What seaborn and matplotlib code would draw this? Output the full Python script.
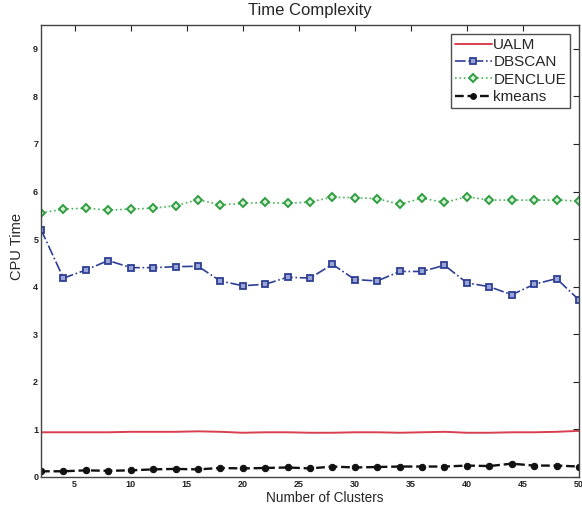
import matplotlib
matplotlib.use("Agg")
import matplotlib.pyplot as plt
import seaborn as sns
import pandas as pd
import numpy as np

clusters = [2, 4, 6, 8, 10, 12, 14, 16, 18, 20, 22, 24, 26, 28, 30, 32, 34, 36, 38, 40, 42, 44, 46, 48, 50]
ualm = [0.94, 0.94, 0.94, 0.94, 0.95, 0.95, 0.95, 0.96, 0.95, 0.93, 0.94, 0.94, 0.93, 0.93, 0.94, 0.94, 0.93, 0.94, 0.95, 0.93, 0.93, 0.94, 0.94, 0.95, 0.97]
dbscan = [5.2, 4.18, 4.35, 4.55, 4.4, 4.4, 4.42, 4.43, 4.12, 4.02, 4.05, 4.2, 4.18, 4.47, 4.15, 4.12, 4.32, 4.32, 4.45, 4.08, 4.0, 3.83, 4.05, 4.17, 3.72]
denclue = [5.55, 5.63, 5.65, 5.61, 5.63, 5.65, 5.7, 5.83, 5.72, 5.75, 5.77, 5.75, 5.78, 5.88, 5.87, 5.85, 5.73, 5.86, 5.77, 5.89, 5.82, 5.82, 5.82, 5.82, 5.8]
kmeans = [0.12, 0.12, 0.14, 0.13, 0.14, 0.16, 0.17, 0.16, 0.19, 0.18, 0.19, 0.2, 0.18, 0.22, 0.2, 0.21, 0.22, 0.22, 0.22, 0.24, 0.23, 0.28, 0.24, 0.24, 0.22]
xticks = [5, 10, 15, 20, 25, 30, 35, 40, 45, 50]
yticks = [0, 1, 2, 3, 4, 5, 6, 7, 8, 9]

sns.set_style("white")
plt.rcParams['font.family'] = ['Liberation Sans', 'DejaVu Sans']

fig = plt.figure(figsize=(5.82, 5.09), dpi=100)
ax = fig.add_axes([41/582, 1-477/509, (579-41)/582, (477-25)/509])

sns.lineplot(x=clusters, y=ualm, ax=ax, color="#d8404f", linewidth=1.4, label="UALM")
sns.lineplot(x=clusters, y=dbscan, ax=ax, color="#2e3f94", linewidth=1.2, linestyle="-.",
             marker="s", markersize=4.2, markerfacecolor="#9aa5d4", markeredgecolor="#2e3f94",
             markeredgewidth=1.3, label="DBSCAN")
sns.lineplot(x=clusters, y=denclue, ax=ax, color="#4cb45a", linewidth=1.2, linestyle=":",
             marker="D", markersize=4.2, markerfacecolor="#d6f0d6", markeredgecolor="#2f9e40",
             markeredgewidth=1.4, label="DENCLUE")
sns.lineplot(x=clusters, y=kmeans, ax=ax, color="#111111", linewidth=1.7, linestyle="--",
             dashes=(3, 3), marker="o", markersize=4.6, markerfacecolor="#111111",
             markeredgecolor="#111111", label="kmeans")

ax.set_xlim(2, 50)
ax.set_ylim(0.05, 9.5)
ax.set_xticks(xticks)
ax.set_yticks(yticks)
ax.tick_params(direction="in", length=4, width=0.8, labelsize=6.5, top=True, right=True,
               colors="#222222", pad=2)
for lab in ax.get_xticklabels() + ax.get_yticklabels():
    lab.set_fontweight("bold")
for s in ax.spines.values():
    s.set_color("#444444")
    s.set_linewidth(1.0)
    s.set_visible(True)

ax.set_title("Time Complexity", fontsize=12, pad=7)
ax.set_xlabel("Number of Clusters", fontsize=9.8)
ax.xaxis.set_label_coords(0.527, -0.032)
ax.set_ylabel("CPU Time", fontsize=10.5)
ax.yaxis.set_label_coords(-0.032, 0.51)

leg = ax.legend(loc="upper right", fontsize=11, frameon=True, fancybox=False,
                edgecolor="#222222", borderpad=0.25, labelspacing=0.22, handlelength=2.4,
                handletextpad=0.1, borderaxespad=0.6, markerscale=0.9)
leg.get_frame().set_linewidth(1.0)

fig.savefig("out.png", dpi=100)
